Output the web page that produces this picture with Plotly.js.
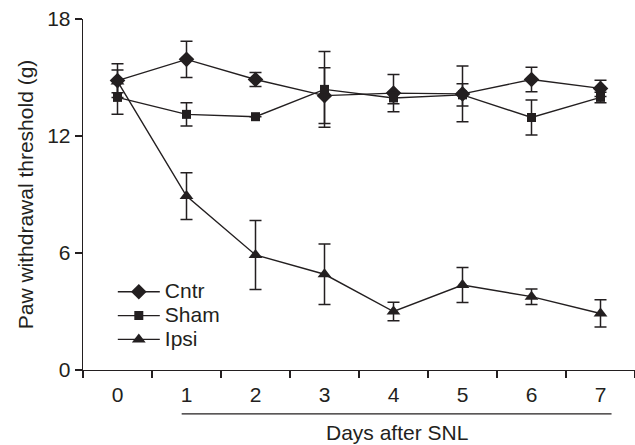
<!DOCTYPE html>
<html>
<head>
<meta charset="utf-8">
<script src="https://cdn.plot.ly/plotly-3.0.1.min.js"></script>
<style>html,body{margin:0;padding:0;background:#fff;}#chart{width:635px;height:445px;}</style>
</head>
<body>
<div id="chart"></div>
<script>
var days = ['0', '1', '2', '3', '4', '5', '6', '7'];
var cntr = [14.84, 15.93, 14.9, 14.07, 14.2, 14.16, 14.9, 14.44];
var cntrErr = [0.86, 0.93, 0.36, 1.43, 0.95, 1.43, 0.63, 0.42];
var sham = [13.98, 13.11, 12.99, 14.39, 13.95, 14.11, 12.95, 13.98];
var shamErr = [0.87, 0.6, 0, 1.94, 0.3, 0.57, 0.9, 0.27];
var ipsi = [14.8, 8.92, 5.9, 4.91, 3.0, 4.36, 3.76, 2.9];
var ipsiErr = [0.58, 1.2, 1.77, 1.55, 0.48, 0.9, 0.4, 0.7];
var seriesNames = ['Cntr', 'Sham', 'Ipsi'];
var yTitle = 'Paw withdrawal threshold (g)';
var xTitle = 'Days after SNL';

var ink = '#231f20';
var font = 'Liberation Sans, Arial, sans-serif';

function mk(name, y, err, symbol, size) {
  return {
    type: 'scatter', mode: 'lines+markers', x: days, y: y,
    name: '<span style="font-size:21px">' + name + '</span>',
    line: {color: ink, width: 1.4},
    marker: {symbol: symbol, size: size, color: ink},
    error_y: {type: 'data', array: err, visible: true, color: ink, thickness: 1.5, width: 6},
    cliponaxis: false
  };
}

var data = [
  mk(seriesNames[0], cntr, cntrErr, 'diamond', 12),
  mk(seriesNames[1], sham, shamErr, 'square', 9),
  mk(seriesNames[2], ipsi, ipsiErr, 'triangle-up', 12)
];

var layout = {
  width: 635, height: 445,
  margin: {l: 83, r: 0, t: 19, b: 75},
  paper_bgcolor: '#fff', plot_bgcolor: '#fff',
  font: {family: font, size: 21, color: ink},
  showlegend: true,
  legend: {x: 0.054, y: 0.271, xanchor: 'left', yanchor: 'top', bgcolor: 'rgba(0,0,0,0)',
           font: {size: 16, color: ink}, tracegroupgap: 0, itemwidth: 42},
  xaxis: {type: 'category', range: [-0.5, 7.5], tickson: 'boundaries', ticks: 'outside', ticklen: 7,
          tickwidth: 1.3, tickcolor: ink, showline: true, linecolor: ink, linewidth: 1.3,
          showgrid: false, zeroline: false, tickfont: {size: 21, color: ink}, ticklabelstandoff: 5,
          fixedrange: true},
  yaxis: {range: [0, 18], tickvals: [0, 6, 12, 18], ticks: 'outside', ticklen: 7, tickwidth: 1.3,
          tickcolor: ink, showline: true, linecolor: ink, linewidth: 1.3, showgrid: false,
          zeroline: false, tickfont: {size: 21, color: ink},
          title: {text: yTitle, font: {size: 21, color: ink}, standoff: 7}},
  shapes: [{type: 'line', xref: 'x', yref: 'paper', x0: 0.93, x1: 7.16, y0: -0.125, y1: -0.125,
            line: {color: ink, width: 1.3}}],
  annotations: [{text: xTitle, xref: 'x', yref: 'paper', x: 4.05, y: -0.177, xanchor: 'center',
                 yanchor: 'middle', showarrow: false, font: {size: 21, color: ink}}]
};

Plotly.newPlot('chart', data, layout, {displayModeBar: false, staticPlot: true});
</script>
</body>
</html>
